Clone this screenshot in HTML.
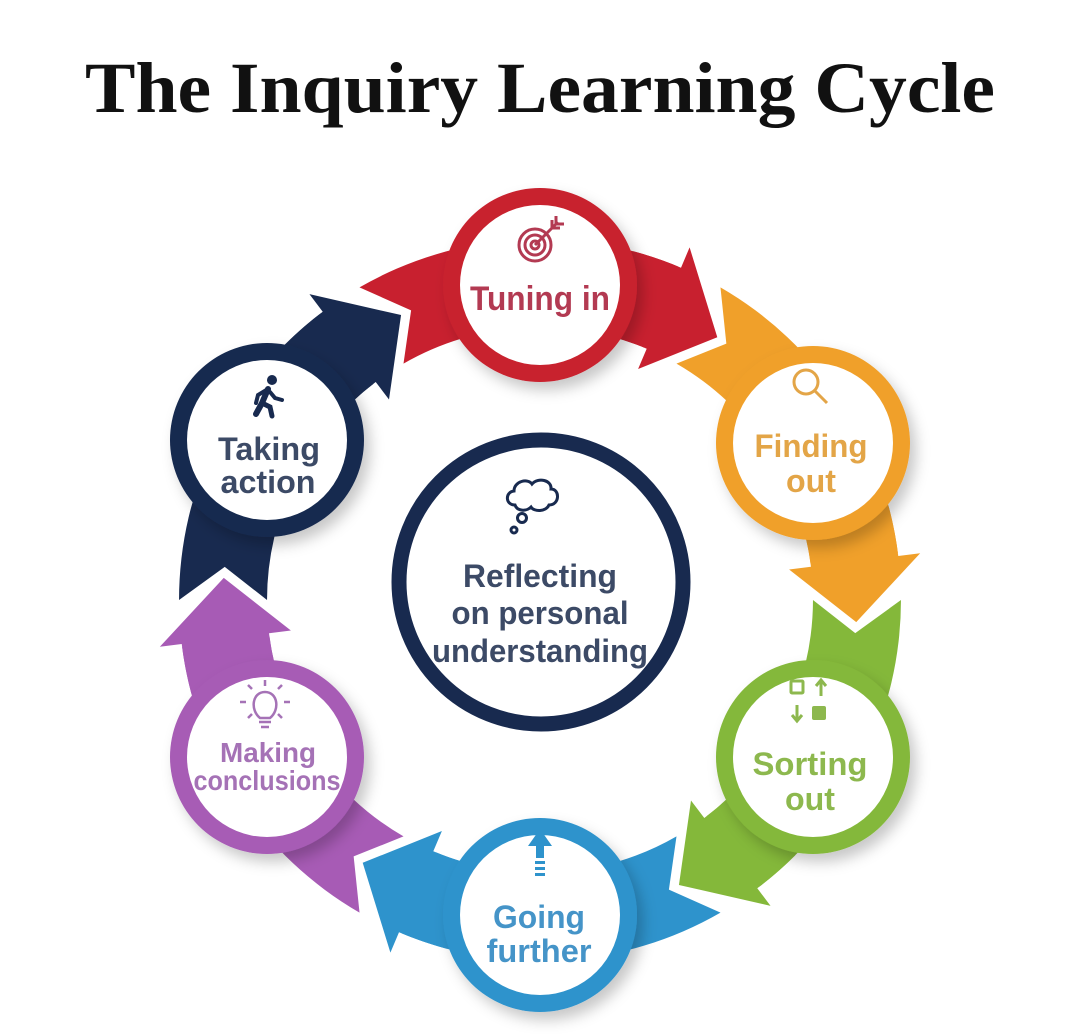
<!DOCTYPE html>
<html><head><meta charset="utf-8"><style>html,body{margin:0;padding:0;background:#fff}svg{display:block}</style></head>
<body>
<svg width="1080" height="1034" viewBox="0 0 1080 1034" xmlns="http://www.w3.org/2000/svg">
<defs>
<path id="band" d="M359.5,287.4 A361,361 0 0 1 681.0,267.7 L689.6,247.4 L717.3,337.2 L638.1,369.0 L646.7,348.7 A273,273 0 0 0 403.5,363.6 L411.1,310.4 Z"/>
<path id="headS" d="M681.0,267.7 L689.6,247.4 L717.3,337.2 L638.1,369.0 L646.7,348.7 Z"/>
<path id="headF" d="M633.4,251.3 A361,361 0 0 1 681.0,267.7 L689.6,247.4 L717.3,337.2 L638.1,369.0 L646.7,348.7 A273,273 0 0 0 610.7,336.3 Z"/>
<filter id="sh" x="-30%" y="-30%" width="160%" height="160%"><feDropShadow dx="6" dy="8" stdDeviation="7" flood-color="#000" flood-opacity="0.22"/></filter>
</defs>
<text x="85" y="112" font-family="Liberation Serif, serif" font-weight="bold" font-size="72" textLength="910" lengthAdjust="spacingAndGlyphs" fill="#111">The Inquiry Learning Cycle</text>

<use href="#band" fill="#c8202f"/>
<use href="#band" fill="#f0a02a" transform="rotate(60 540 600)"/>
<use href="#band" fill="#84b83a" transform="rotate(120 540 600)"/>
<use href="#band" fill="#2e93cc" transform="rotate(180 540 600)"/>
<use href="#band" fill="#a75bb5" transform="rotate(240 540 600)"/>
<use href="#band" fill="#182a4f" transform="rotate(300 540 600)"/>
<g stroke="#fff" stroke-width="6" stroke-linejoin="miter">
<use href="#headS" fill="#c8202f"/>
<use href="#headS" fill="#f0a02a" transform="rotate(60 540 600)"/>
<use href="#headS" fill="#84b83a" transform="rotate(120 540 600)"/>
<use href="#headS" fill="#2e93cc" transform="rotate(180 540 600)"/>
<use href="#headS" fill="#a75bb5" transform="rotate(240 540 600)"/>
<use href="#headS" fill="#182a4f" transform="rotate(300 540 600)"/>
</g>
<use href="#headF" fill="#c8202f"/>
<use href="#headF" fill="#f0a02a" transform="rotate(60 540 600)"/>
<use href="#headF" fill="#84b83a" transform="rotate(120 540 600)"/>
<use href="#headF" fill="#2e93cc" transform="rotate(180 540 600)"/>
<use href="#headF" fill="#a75bb5" transform="rotate(240 540 600)"/>
<use href="#headF" fill="#182a4f" transform="rotate(300 540 600)"/>

<g filter="url(#sh)">
<circle cx="540" cy="285" r="97" fill="#c8202f"/>
<circle cx="813" cy="443" r="97" fill="#f0a02a"/>
<circle cx="813" cy="757" r="97" fill="#84b83a"/>
<circle cx="540" cy="915" r="97" fill="#2e93cc"/>
<circle cx="267" cy="757" r="97" fill="#a75bb5"/>
<circle cx="267" cy="440" r="97" fill="#182a4f"/>
</g>
<g fill="#fff">
<circle cx="540" cy="285" r="80"/>
<circle cx="813" cy="443" r="80"/>
<circle cx="813" cy="757" r="80"/>
<circle cx="540" cy="915" r="80"/>
<circle cx="267" cy="757" r="80"/>
<circle cx="267" cy="440" r="80"/>
</g>
<circle cx="541" cy="582" r="142" fill="#fff" stroke="#182a4f" stroke-width="15"/>

<g font-family="Liberation Sans, sans-serif" font-weight="bold" text-anchor="middle">
<text x="540" y="310" font-size="34" fill="#b33a52" textLength="140" lengthAdjust="spacingAndGlyphs">Tuning in</text>
<text x="811" y="457" font-size="32" fill="#e3a547" textLength="113" lengthAdjust="spacingAndGlyphs">Finding</text>
<text x="811" y="492" font-size="32" fill="#e3a547" textLength="50" lengthAdjust="spacingAndGlyphs">out</text>
<text x="810" y="775" font-size="32" fill="#8db84e" textLength="115" lengthAdjust="spacingAndGlyphs">Sorting</text>
<text x="810" y="810" font-size="32" fill="#8db84e" textLength="50" lengthAdjust="spacingAndGlyphs">out</text>
<text x="539" y="928" font-size="32" fill="#4594c8" textLength="92" lengthAdjust="spacingAndGlyphs">Going</text>
<text x="539" y="962" font-size="32" fill="#4594c8" textLength="105" lengthAdjust="spacingAndGlyphs">further</text>
<text x="268" y="762" font-size="28" fill="#a572b6" textLength="96" lengthAdjust="spacingAndGlyphs">Making</text>
<text x="267" y="790" font-size="28" fill="#a572b6" textLength="147" lengthAdjust="spacingAndGlyphs">conclusions</text>
<text x="269" y="460" font-size="32" fill="#3c4a66" textLength="102" lengthAdjust="spacingAndGlyphs">Taking</text>
<text x="268" y="493" font-size="32" fill="#3c4a66" textLength="95" lengthAdjust="spacingAndGlyphs">action</text>
<text x="540" y="587" font-size="32" fill="#3c4a66" textLength="154" lengthAdjust="spacingAndGlyphs">Reflecting</text>
<text x="540" y="624" font-size="32" fill="#3c4a66" textLength="177" lengthAdjust="spacingAndGlyphs">on personal</text>
<text x="540" y="662" font-size="32" fill="#3c4a66" textLength="216" lengthAdjust="spacingAndGlyphs">understanding</text>
</g>

<g fill="none" stroke="#b33a52" stroke-width="3">
<circle cx="535" cy="245" r="16"/><circle cx="535" cy="245" r="10"/><circle cx="535" cy="245" r="4"/>
<path d="M535,245 L558,222 M552,220 L552,228 L560,228 M556,216 L556,224 L564,224"/>
</g>
<g fill="none" stroke="#e3a547" stroke-width="3">
<circle cx="806" cy="382" r="12"/><path d="M815,391 L827,403"/>
</g>
<g fill="#8db84e" stroke="#8db84e" stroke-width="3">
<rect x="791" y="681" width="12" height="12" fill="none" rx="1"/>
<rect x="812" y="706" width="14" height="14" rx="2" stroke="none"/>
<path d="M821,696 L821,681 M816,686 L821,680 L826,686 M797,705 L797,720 M792,715 L797,721 L802,715" fill="none"/>
</g>
<g fill="#2e93cc">
<polygon points="540,829 552,846 544,846 544,858 536,858 536,846 528,846"/>
<rect x="535" y="861" width="10" height="3"/><rect x="535" y="867" width="10" height="3"/><rect x="535" y="873" width="10" height="3"/>
</g>
<g fill="none" stroke="#a572b6" stroke-width="2.5">
<path d="M260,718 C250,710 252,692 265,692 C278,692 280,710 270,718 Z"/>
<path d="M259,722 L271,722 M261,727 L269,727"/>
<path d="M265,680 L265,686 M248,685 L252,689 M282,685 L278,689 M240,702 L246,702 M284,702 L290,702 M248,718 L252,714 M282,718 L278,714"/>
</g>
<g fill="#182a4f" stroke="#182a4f" stroke-linecap="round">
<circle cx="272" cy="380" r="5" stroke="none"/>
<path d="M268,389 L262,403 L256,414" stroke-width="6" fill="none"/>
<path d="M262,403 L270,407 L272,416" stroke-width="5" fill="none"/>
<path d="M268,389 L258,395 L256,403 M270,392 L275,398 L282,400" stroke-width="4" fill="none"/>
</g>
<g fill="#fff" stroke="#182a4f" stroke-width="3">
<path d="M515,505 C505,505 505,492 514,491 C514,481 528,478 532,484 C538,477 552,480 551,489 C560,489 560,505 549,505 C546,512 534,512 531,507 C526,512 517,511 515,505 Z"/>
<circle cx="522" cy="518" r="4.5"/><circle cx="514" cy="530" r="3"/>
</g>
</svg>
</body></html>
